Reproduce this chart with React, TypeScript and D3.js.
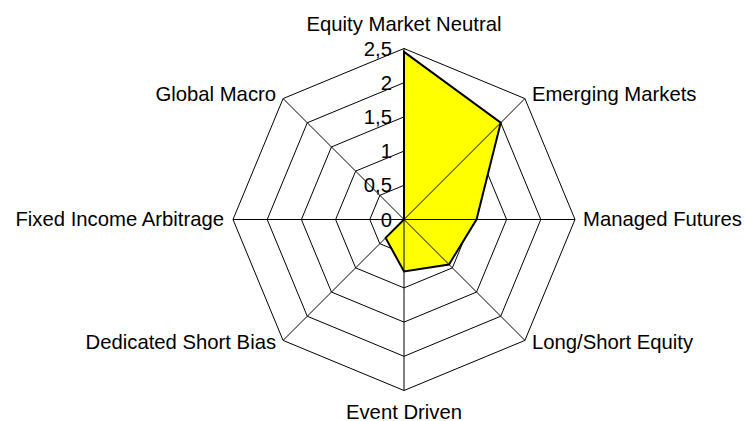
import React from "react";
import * as d3 from "d3";

const categories = [
  "Equity Market Neutral",
  "Emerging Markets",
  "Managed Futures",
  "Long/Short Equity",
  "Event Driven",
  "Dedicated Short Bias",
  "Fixed Income Arbitrage",
  "Global Macro",
];
const values = [2.45, 2.0, 1.06, 0.93, 0.76, 0.38, 0, 0];
const tickValues = [0, 0.5, 1, 1.5, 2, 2.5];
const tickLabels = ["0", "0,5", "1", "1,5", "2", "2,5"];

const W = 746;
const H = 421;
const cx = 404;
const cy = 219.5;
const R = 171;
const FONT = "'Liberation Sans', Arial, sans-serif";
const FS = 20.3;

export default function App() {
  const r = d3.scaleLinear().domain([0, 2.5]).range([0, R]);
  const angle = d3
    .scaleLinear()
    .domain([0, categories.length])
    .range([0, 2 * Math.PI]);
  const pt = (i: number, v: number): [number, number] => {
    const a = angle(i);
    return [cx + Math.sin(a) * r(v), cy - Math.cos(a) * r(v)];
  };
  const line = d3.line<[number, number]>().curve(d3.curveLinearClosed);
  const rings = tickValues.filter((t) => t > 0);
  const dataPts = values.map((v, i) => pt(i, v));

  return (
    <svg
      width={W}
      height={H}
      style={{ position: "absolute", left: 0, top: 0, background: "#fff" }}
      fontFamily={FONT}
    >
      <rect x={0} y={0} width={W} height={H} fill="#fff" />
      {rings.map((t) => (
        <path
          key={t}
          d={line(categories.map((_, i) => pt(i, t))) || ""}
          fill="none"
          stroke="#000"
          strokeWidth={1}
        />
      ))}
      <path d={line(dataPts) || ""} fill="#ffff00" stroke="none" />
      {categories.map((_, i) => {
        const [x, y] = pt(i, 2.5);
        return (
          <line key={i} x1={cx} y1={cy} x2={x} y2={y} stroke="#000" strokeWidth={1} />
        );
      })}
      <path
        d={line(dataPts) || ""}
        fill="none"
        stroke="#000"
        strokeWidth={2}
        strokeLinejoin="miter"
      />
      {tickValues.map((t, i) => (
        <text
          key={t}
          x={cx - 12}
          y={cy - r(t)}
          textAnchor="end"
          dominantBaseline="central"
          fontSize={FS}
          fill="#000"
        >
          {tickLabels[i]}
        </text>
      ))}
      {categories.map((c, i) => {
        const a = angle(i);
        const s = Math.sin(a);
        const co = Math.cos(a);
        const [x, y] = pt(i, 2.5);
        let anchor: "start" | "middle" | "end" = "middle";
        let dx = 0;
        let dy = 0;
        if (Math.abs(s) < 0.1) {
          anchor = "middle";
          dy = co > 0 ? -25 : 21;
        } else {
          anchor = s > 0 ? "start" : "end";
          dx = s > 0 ? 7 : -7;
          if (Math.abs(co) < 0.1) dy = -1;
          else dy = co > 0 ? -5 : 2;
          if (Math.abs(co) < 0.1) dx = s > 0 ? 8 : -9;
        }
        return (
          <text
            key={c}
            x={x + dx}
            y={y + dy}
            textAnchor={anchor}
            dominantBaseline="central"
            fontSize={FS}
            fill="#000"
          >
            {c}
          </text>
        );
      })}
    </svg>
  );
}
